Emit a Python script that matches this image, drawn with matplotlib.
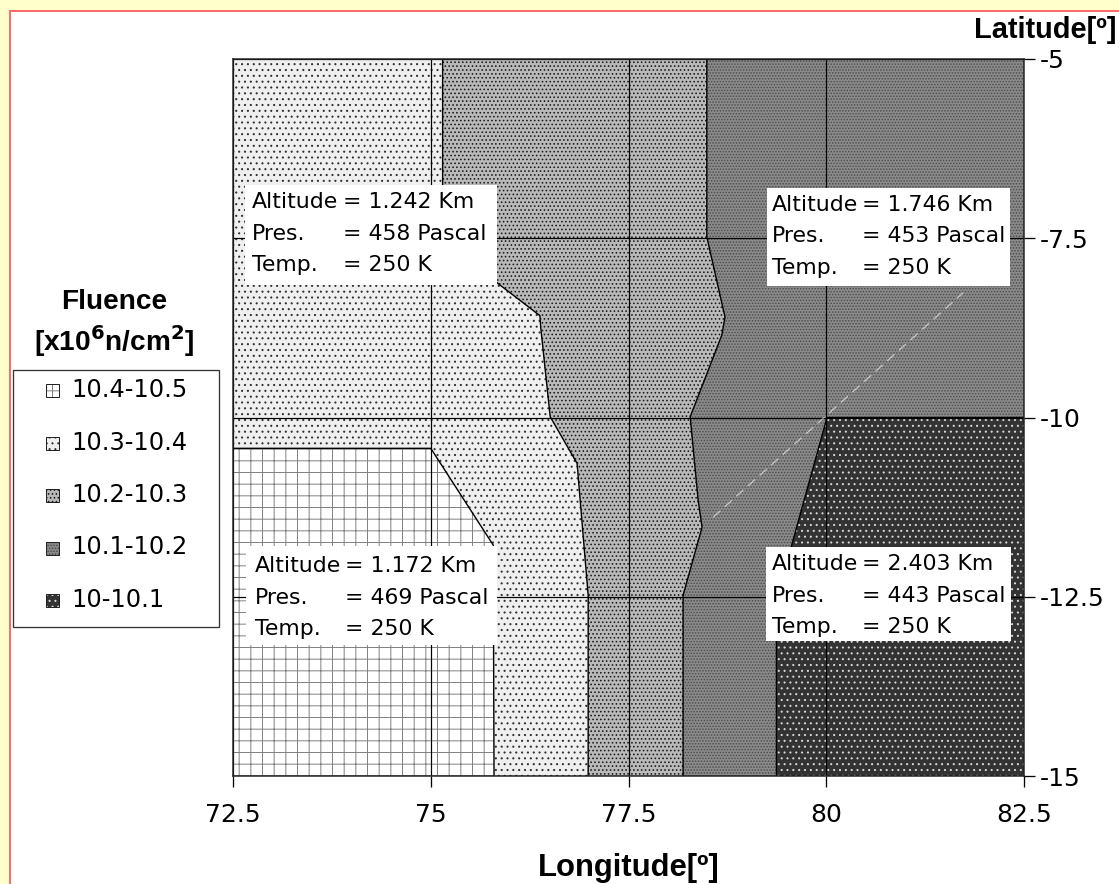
import matplotlib
matplotlib.use("Agg")
import matplotlib.pyplot as plt
import matplotlib.transforms as mtransforms
from matplotlib.patches import Polygon, Rectangle

W, H, DPI = 1119, 884, 70


def fs(px):
    # point size for a given em size in pixels
    return px * 72.0 / DPI


plt.rcParams['font.family'] = ['DejaVu Sans']
plt.rcParams['hatch.linewidth'] = 1.0

# ---- data -------------------------------------------------------------
lon_ticks = [72.5, 75, 77.5, 80, 82.5]
lon_labels = ["72.5", "75", "77.5", "80", "82.5"]
lat_ticks = [-15, -12.5, -10, -7.5, -5]
lat_labels = ["-15", "-12.5", "-10", "-7.5", "-5"]

levels = ["10.4-10.5", "10.3-10.4", "10.2-10.3", "10.1-10.2", "10-10.1"]

# contour lines separating the fluence bands (lon, lat)
edge1_lon = [72.5, 75.0, 75.79, 75.80]
edge1_lat = [-10.43, -10.43, -11.78, -15.0]
edge2_lon = [75.15, 75.15, 75.79, 76.38, 76.39, 76.51, 76.85, 76.99, 76.99]
edge2_lat = [-5.0, -7.52, -8.08, -8.58, -8.74, -9.99, -10.64, -12.48, -15.0]
edge3_lon = [78.49, 78.49, 78.72, 78.68, 78.28, 78.38, 78.43, 78.19, 78.19]
edge3_lat = [-5.0, -7.48, -8.60, -8.85, -9.99, -11.15, -11.53, -12.48, -15.0]
edge4_lon = [82.5, 80.01, 79.37, 79.37]
edge4_lat = [-10.0, -10.0, -12.55, -15.0]

# faint white streak inside the 10.1-10.2 band
streak_lon = [78.57, 81.73]
streak_lat = [-11.39, -8.26]

# site info boxes (TL, TR, BL, BR)
box_alt = ["1.242", "1.746", "1.172", "2.403"]
box_pres = ["458", "453", "469", "443"]
box_temp = ["250", "250", "250", "250"]

# ---- styles -----------------------------------------------------------
styles = {
    "10.4-10.5": dict(facecolor='white', edgecolor='#808080', hatch='+'),
    "10.3-10.4": dict(facecolor='#efefef', edgecolor='#303030', hatch='..'),
    "10.2-10.3": dict(facecolor='#b9b9b9', edgecolor='#1a1a1a', hatch='...'),
    "10.1-10.2": dict(facecolor='#8a8a8a', edgecolor='#4a4a4a', hatch='....'),
    "10-10.1": dict(facecolor='#333333', edgecolor='#d8d8d8', hatch='..'),
}

# pixel coords (origin top-left) -> display
pix = mtransforms.Affine2D().scale(1, -1).translate(0, H)

fig = plt.figure(figsize=(W / DPI, H / DPI), dpi=DPI)
fig.patch.set_facecolor('#FFFFCC')
fig.patches.append(Rectangle((10, 11), W, H, transform=pix,
                             facecolor='white', edgecolor='#FF6B6B',
                             linewidth=fs(2), zorder=-1))

ax = fig.add_axes([233 / W, 1 - 776 / H, (1024 - 233) / W, (776 - 59) / H])
ax.set_xlim(72.5, 82.5)
ax.set_ylim(-15, -5)

# painter's order: background band first, then bands to the left / corner
ax.add_patch(Polygon([(72.5, -5), (82.5, -5), (82.5, -15), (72.5, -15)],
                     closed=True, linewidth=0, **styles["10.1-10.2"]))
ax.add_patch(Polygon([(72.5, -5)] + list(zip(edge3_lon, edge3_lat)) + [(72.5, -15)],
                     closed=True, linewidth=0, **styles["10.2-10.3"]))
ax.add_patch(Polygon([(72.5, -5)] + list(zip(edge2_lon, edge2_lat)) + [(72.5, -15)],
                     closed=True, linewidth=0, **styles["10.3-10.4"]))
ax.add_patch(Polygon(list(zip(edge1_lon, edge1_lat)) + [(72.5, -15)],
                     closed=True, linewidth=0, **styles["10.4-10.5"]))
ax.add_patch(Polygon(list(zip(edge4_lon, edge4_lat)) + [(82.5, -15)],
                     closed=True, linewidth=0, **styles["10-10.1"]))

for lo, la in [(edge1_lon, edge1_lat), (edge2_lon, edge2_lat),
               (edge3_lon, edge3_lat), (edge4_lon, edge4_lat)]:
    ax.plot(lo, la, color='black', linewidth=fs(1.4), zorder=2)

ax.plot(streak_lon, streak_lat, color='white', linewidth=fs(1.2),
        linestyle=(0, (8, 5)), alpha=0.6, zorder=2)

# axes, ticks, grid
ax.set_xticks(lon_ticks)
ax.set_xticklabels(lon_labels)
ax.set_yticks(lat_ticks)
ax.set_yticklabels(lat_labels)
ax.yaxis.tick_right()
ax.grid(True, color='black', linewidth=fs(1.2))
ax.tick_params(axis='x', direction='out', length=fs(11), width=fs(1.3),
               pad=fs(16), labelsize=fs(25))
ax.tick_params(axis='y', direction='out', length=fs(11), width=fs(1.3),
               pad=fs(5), labelsize=fs(25))
for sp in ax.spines.values():
    sp.set_color('#222222')
    sp.set_linewidth(fs(1.5))

# info boxes: (x0, y0, w, h, label_x, eq_x, first baseline)
box_layout = [
    (245, 185, 252, 100, 252, 343, 208),
    (767, 188, 243, 98, 772, 862, 211),
    (246, 546, 251, 99, 255, 345, 572),
    (766, 547, 245, 94, 772, 862, 570),
]
for i, (x0, y0, w, h, lx, ex, b0) in enumerate(box_layout):
    ax.add_patch(Rectangle((x0, y0), w, h, transform=pix, facecolor='white',
                           edgecolor='none', zorder=3))
    rows = [("Altitude", "= %s Km" % box_alt[i]),
            ("Pres.", "= %s Pascal" % box_pres[i]),
            ("Temp.", "= %s K" % box_temp[i])]
    for j, (lab, val) in enumerate(rows):
        yb = b0 + 31.5 * j
        ax.text(lx, yb, lab, transform=pix, fontsize=fs(22), va='baseline',
                ha='left', zorder=4)
        ax.text(ex, yb, val, transform=pix, fontsize=fs(22), va='baseline',
                ha='left', zorder=4)

# axis titles
bold_family = ['Liberation Sans', 'DejaVu Sans']
fig.text(1116, 38, "Latitude[º]", transform=pix, fontsize=fs(29),
         fontweight='bold', family=bold_family, ha='right', va='baseline')
fig.text(629, 876, "Longitude[º]", transform=pix, fontsize=fs(31),
         fontweight='bold', family=bold_family, ha='center', va='baseline')

# legend (drawn by hand to match the boxed layout)
fig.text(114, 309, "Fluence", transform=pix, fontsize=fs(28),
         fontweight='bold', family=bold_family, ha='center', va='baseline')
fig.text(114, 351, r"[x10$^{\mathbf{6}}$n/cm$^{\mathbf{2}}$]", transform=pix,
         fontsize=fs(28), fontweight='bold', family=bold_family,
         ha='center', va='baseline')
fig.patches.append(Rectangle((13, 370), 206, 257, transform=pix,
                             facecolor='white', edgecolor='#333333',
                             linewidth=fs(1.3)))
for k, lev in enumerate(levels):
    yc = 390 + 52.5 * k
    fig.patches.append(Rectangle((46, yc - 6), 13, 13, transform=pix,
                                 linewidth=0, **styles[lev]))
    fig.patches.append(Rectangle((46, yc - 6), 13, 13, transform=pix,
                                 facecolor='none', edgecolor='#222222',
                                 linewidth=fs(1)))
    fig.text(71, yc, lev, transform=pix, fontsize=fs(24), ha='left',
             va='center')

fig.savefig('out.png', dpi=DPI, facecolor=fig.get_facecolor())
